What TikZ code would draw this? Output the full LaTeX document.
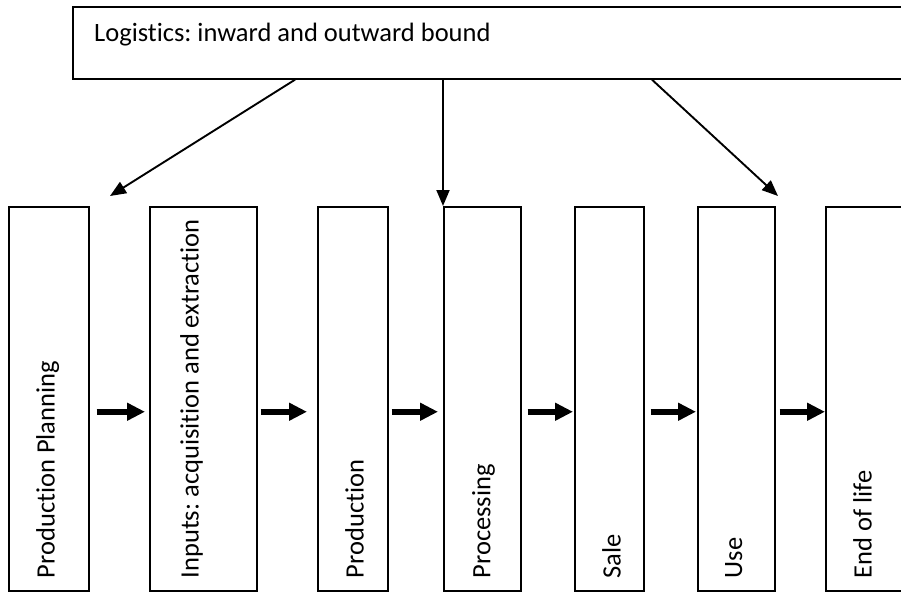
\documentclass[tikz,border=0pt]{standalone}
\usepackage{fontspec}
\setmainfont{Carlito}[Ligatures=CommonOff]
\frenchspacing
\usetikzlibrary{arrows.meta}
\begin{document}
\begin{tikzpicture}[x=1pt, y=-1pt,
  stage/.style={draw, line width=1.5pt, minimum width=#1, minimum height=384pt, anchor=north west, inner sep=0pt},
  stagetxt/.style={rotate=90, anchor=north west, inner sep=0pt, font=\fontsize{26.5}{32}\selectfont},
  feed/.style={line width=1.9pt, -{Triangle[length=16pt,width=13pt]}},
  flow/.style={line width=6pt, -{Triangle[length=18pt,width=17pt]}}]
\clip (0,0) rectangle (901,591);
\node[draw, line width=1.7pt, minimum width=860pt, minimum height=72pt, anchor=north west, inner sep=0pt] (logi) at (72,6){};
\node[anchor=base west, inner sep=0pt, font=\fontsize{26.5}{32}\selectfont] (logitxt) at (94,42){Logistics: inward and outward bound};
% stages
\node[stage=80pt] (plan) at (8,206){};
\node[stage=107pt] (inp) at (149,206){};
\node[stage=70pt] (prod) at (317,206){};
\node[stage=77pt] (proc) at (443,206){};
\node[stage=69pt] (sale) at (574,206){};
\node[stage=77pt] (use) at (697,206){};
\node[stage=100pt] (eol) at (825,206){};
\node[stagetxt] (plantxt) at ([xshift=28pt,yshift=13pt]plan.south west){Production Planning};
\node[stagetxt] (inptxt) at ([xshift=31pt,yshift=13pt]inp.south west){Inputs: acquisition and extraction};
\node[stagetxt] (prodtxt) at ([xshift=28pt,yshift=13pt]prod.south west){Production};
\node[stagetxt] (proctxt) at ([xshift=29pt,yshift=13pt]proc.south west){Processing};
\node[stagetxt] (saletxt) at ([xshift=28pt,yshift=13pt]sale.south west){Sale};
\node[stagetxt] (usetxt) at ([xshift=28pt,yshift=13pt]use.south west){Use};
\node[stagetxt] (eoltxt) at ([xshift=28pt,yshift=13pt]eol.south west){End of life};
% logistics arrows
\coordinate (planin) at (110,196);
\coordinate (usein) at (778,196);
\draw[feed] ([xshift=223pt]logi.south west) -- (planin);
\draw[feed] (logi.south -| proc.north west) -- (proc.north west);
\draw[feed] ([xshift=580pt]logi.south west) -- (usein);
% flow arrows
\draw[flow] ([xshift=7pt,yshift=-13pt]plan.east) -- ([xshift=-4pt,yshift=-13pt]inp.west);
\draw[flow] ([xshift=3pt,yshift=-13pt]inp.east) -- ([xshift=-10pt,yshift=-13pt]prod.west);
\draw[flow] ([xshift=3pt,yshift=-13pt]prod.east) -- ([xshift=-5pt,yshift=-13pt]proc.west);
\draw[flow] ([xshift=6pt,yshift=-13pt]proc.east) -- ([xshift=-1pt,yshift=-13pt]sale.west);
\draw[flow] ([xshift=6pt,yshift=-13pt]sale.east) -- ([xshift=-1pt,yshift=-13pt]use.west);
\draw[flow] ([xshift=4pt,yshift=-13pt]use.east) -- ([yshift=-13pt]eol.west);
\end{tikzpicture}
\end{document}
